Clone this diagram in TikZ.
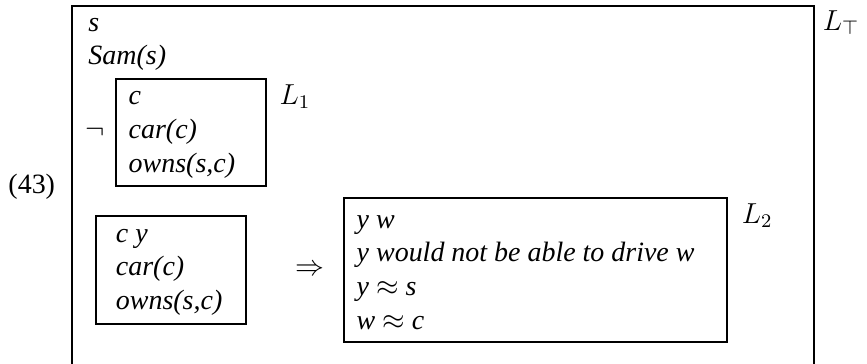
\documentclass[tikz,border=0pt]{standalone}
\usepackage[no-math]{fontspec}
\setmainfont{Liberation Serif}
\usetikzlibrary{positioning}

\tikzstyle{every node}=[inner sep=0pt, font={\fontsize{11.6}{14}\selectfont\itshape}]
\tikzstyle{drsbox}=[draw, thick, anchor=north west]
\tikzstyle{drstext}=[anchor=west, align=left]
\tikzstyle{boxname}=[anchor=north west, font={\fontsize{12}{14}\selectfont}]

\begin{document}
\begin{tikzpicture}[x=0.415pt, y=-0.415pt]
    \useasboundingbox (0,0) rectangle (867,363);
    \clip (0,0) rectangle (867,363);
    % outer box, its bottom runs off the page
    \node [drsbox, minimum width=308pt, minimum height=170pt] (ltop) at (71,5) {};
    \node [boxname] (ltopname) at ([shift={(3pt,-2pt)}]ltop.north east) {$L_\top$};
    \node [anchor=base west] (svar) at (88,31) {s};
    \node [anchor=base west] (sam) at (88,64) {Sam(s)};
    % negated box
    \node [drsbox, minimum width=62.3pt, minimum height=44.4pt] (lone) at (115,78) {};
    \node [drstext] (lonetext) at ([shift={(5.5pt,-1pt)}]lone.west) {c\\car(c)\\owns(s,c)};
    \node [left=4pt of lone] (neg) {$\neg$};
    \node [boxname] (lonename) at ([shift={(5pt,-2.5pt)}]lone.north east) {$L_1$};
    % conditional
    \node [drsbox, minimum width=62.3pt, minimum height=44.8pt] (ante) at (95,215) {};
    \node [drstext] (antetext) at ([shift={(8.5pt,-1pt)}]ante.west) {c y\\car(c)\\owns(s,c)};
    \node [drsbox, minimum width=159pt, minimum height=59.8pt] (ltwo) at (343,197) {};
    \node [drstext] (ltwotext) at ([shift={(5.5pt,-1pt)}]ltwo.west)
        {y w\\y would not be able to drive w\\y $\approx$ s\\w $\approx$ c};
    \node [left=7.5pt of ltwo] (impl) {$\Rightarrow$};
    \node [boxname] (ltwoname) at ([shift={(5.5pt,-2.5pt)}]ltwo.north east) {$L_2$};
    \node [anchor=base west, font={\fontsize{11.6}{14}\selectfont}] (exnum) at (8,193) {(43)};
\end{tikzpicture}
\end{document}
